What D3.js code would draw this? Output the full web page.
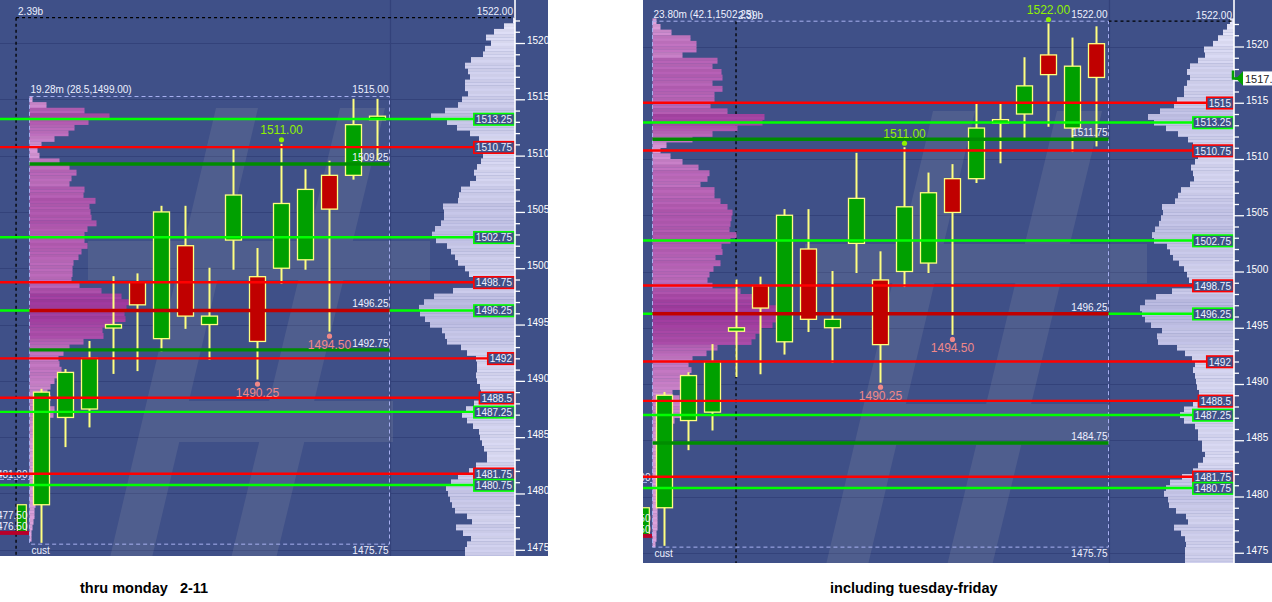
<!DOCTYPE html>
<html><head><meta charset="utf-8">
<script src="https://cdn.jsdelivr.net/npm/d3@7"></script>
<style>
html,body{margin:0;padding:0;background:#fff;}
svg{display:block;font-family:"Liberation Sans",Arial,sans-serif;}
</style></head>
<body><svg id="chart" width="1272" height="602"></svg>
<script>
// ---------------- DATA ----------------
// 30-minute bars of the session (left panel shows the first 15, right panel all 19)
const opens  = [1479, 1486.75, 1487.5, 1494.75, 1498.75, 1493.75, 1502, 1495, 1502.5, 1499.25, 1500, 1500.75, 1508.25, 1508.25, 1513.25, 1514, 1519.25, 1512.75, 1520.25];
const highs  = [1489.25, 1491, 1493.5, 1499.25, 1499.5, 1505.5, 1505.5, 1500, 1510.5, 1501.75, 1511, 1508.75, 1509.5, 1515, 1515, 1519, 1522, 1520.75, 1521.75];
const lows   = [1475.75, 1484.25, 1486, 1490.75, 1491, 1492.75, 1494.75, 1492, 1500, 1490.25, 1498.75, 1500, 1494.5, 1508, 1509.75, 1512, 1513, 1510.75, 1511.25];
const closes = [1489, 1490.75, 1492, 1495, 1496.75, 1505, 1495.75, 1495.75, 1506.5, 1493.5, 1505.75, 1507, 1505.25, 1512.75, 1513.5, 1516.5, 1517.5, 1518.25, 1517.25];
const barsShown = [15, 19];

// horizontal reference levels with axis label boxes
const levelPricesL = [1513.25, 1510.75, 1502.75, 1498.75, 1496.25, 1492, 1488.5, 1487.25, 1481.75, 1480.75];
const levelKindsL  = ["g", "r", "g", "r", "g", "r", "r", "g", "r", "g"];
const levelTextL   = ["1513.25", "1510.75", "1502.75", "1498.75", "1496.25", "1492", "1488.5", "1487.25", "1481.75", "1480.75"];
const levelPricesR = [1515, 1513.25, 1510.75, 1502.75, 1498.75, 1496.25, 1492, 1488.5, 1487.25, 1481.75, 1480.75];
const levelKindsR  = ["r", "g", "r", "g", "r", "g", "r", "r", "g", "r", "g"];
const levelTextR   = ["1515", "1513.25", "1510.75", "1502.75", "1498.75", "1496.25", "1492", "1488.5", "1487.25", "1481.75", "1480.75"];

// lines limited to the session profile box
const boxLinePricesL = [1509.25, 1496.25, 1492.75];
const boxLineKindsL  = ["dg", "poc", "dg"];
const boxLinePricesR = [1511.75, 1496.25, 1484.75];
const boxLineKindsR  = ["dg", "poc", "dg"];

// session extremes
const extremeIdxL   = [10, 12, 9];
const extremeKindL  = ["hi", "lo", "lo"];
const extremeIdxR   = [16, 10, 12, 9];
const extremeKindR  = ["hi", "hi", "lo", "lo"];

// session (pink) profile, 0.5-pt rows from top price downward
const pinkTopL = 1515;
const pinkProfileL = [3,17,55,80,59,45,39,25,12,8, 10,30,40,47,42,40,55,54,66,60, 61,62,67,58,55,55,58,52,49,44,
  43,43,42,50,72,92,101,97,95,96, 85,73,74,54,40,34,29,30,32,30, 25,21,18,21,20,25,24,18,15,16, 10,7,6,6,7,6,6,7,6,6, 7,6,6,5,5,4,3,2,2];
const pinkTopR = 1522.25;
const pinkProfileR = [4,8,19,38,44,44,30,65,60,69, 70,60,70,62,62,58,75,112,110,85, 60,40,14,8,18,30,46,57,55,48,
  62,62,68,75,80,79,78,77,84,78, 69,70,63,68,61,57,55,60,88,102, 115,126,130,126,120,108,103,99,65,54,
  40,36,39,36,32,28,20,27,28,29, 28,22,19,14,9,8,8,9,8,7, 8,9,8,7,7,6,6,5,5,5, 5,4,4,3];

// composite (lavender) profile at the price axis, 0.5-pt rows
const axisTopL = 1522;
const axisProfileL = [2,11,21,29,24,30,32,44,50,47, 45,50,50,47,53,57,70,84,68,58, 45,36,28,27,32,34,38,41,39,45,
  54,56,57,72,71,71,74,80,83,79, 68,64,60,57,50,46,40,42,62,81, 91,96,95,90,85,73,70,68,54,48,
  39,38,38,39,38,35,34,35,41,49, 53,48,42,36,35,33,31,28,28,39, 46,57,64,69,67,65,63,60,48,43, 59,52,44,48,50,50,50];
const axisTopR = 1522.25;
const axisProfileR = [4,7,11,16,21,30,29,36,44,47, 44,47,50,50,57,60,74,86,80,68, 56,46,41,35,36,39,43,41,40,44,
  53,56,59,72,71,73,75,79,82,80, 67,64,61,55,50,47,45,42,62,78, 89,94,92,89,83,72,77,76,57,49,
  42,39,41,39,38,37,35,36,41,50, 54,50,39,36,36,32,32,29,31,36, 41,52,64,68,70,66,65,58,48,46, 60,53,49,48,49,49,49];

// prior session remnants at the left edge
const priorBar = {o: 1476.5, c: 1479, h: 1479.25, l: 1476.25};
const priorLabelPrices = [1481.25, 1477.5, 1476.5];
const priorLabelText = ["1481.00", "1477.50", "1476.50"];
const priorPocPrice = 1476.5;

const majorTicks = [1475, 1480, 1485, 1490, 1495, 1500, 1505, 1510, 1515, 1520];
const minorTicks = d3.range(1474, 1523).filter(v => v % 5 !== 0);
const compositeHigh = 1522.25;
const lastPriceText = "1517.25";

const infoTopL = ["19.28m (28.5,1499.00)", "1515.00"];
const infoTopR = ["23.80m (42.1,1502.25)", "1522.00"];
const sessionRangeL = [1515, 1475.75];
const sessionRangeR = [1522, 1475.75];
const captions = ["thru monday\u00a0\u00a0\u00a02-11", "including tuesday-friday"];

// ---------------- DRAWING ----------------
const BG = "#3f5088", GRID = "#33427a", TXT = "#eef0ff", YEL = "#ffff80";
const LIME = "#90f000", SALMON = "#f08888";
const svg = d3.select("#chart");
const defs = svg.append("defs");
const fmt2 = d3.format(".2f");

function drawPanel(P) {
  const n = P.n;
  const y = d3.scaleLinear().domain([1475, 1520]).range(P.yRange);
  const x = d3.scaleLinear().domain([0, 1]).range([P.xFirst, P.xFirst + P.step]);
  const wS = d3.scaleLinear().domain([0, 100]).range([0, 100]);
  defs.append("clipPath").attr("id", "clip-" + P.id).append("rect")
    .attr("x", P.left).attr("y", 0).attr("width", P.right - P.left).attr("height", P.bottom);
  const g = svg.append("g").attr("clip-path", `url(#clip-${P.id})`);
  g.append("rect").attr("x", P.left).attr("y", 0).attr("width", P.right - P.left).attr("height", P.bottom).attr("fill", BG);

  const boxLeft = x(-0.5), boxRight = x(n - 1 + 0.5);
  const boxTop = y(P.range[0] + 0.25), boxBot = y(P.range[1] - 0.25);

  // gridlines
  g.append("g").selectAll("line").data(majorTicks).join("line")
    .attr("x1", P.left).attr("x2", P.axisX)
    .attr("y1", d => Math.round(y(d)) + 0.5).attr("y2", d => Math.round(y(d)) + 0.5)
    .attr("stroke", GRID).attr("stroke-width", 1.2);
  g.append("line").attr("x1", Math.round(boxRight) + 0.5).attr("x2", Math.round(boxRight) + 0.5)
    .attr("y1", 0).attr("y2", P.bottom).attr("stroke", GRID).attr("stroke-width", 1.2);

  // watermark logo
  const wm = g.append("g").attr("transform", `translate(${P.wmDx},${P.wmDy})`).attr("opacity", 0.14).attr("fill", "#b4b4b4");
  wm.append("path").attr("d", "M216,108 L258,108 L142,600 L100,600 Z");
  wm.append("path").attr("d", "M340,108 L385,108 L266,600 L221,600 Z");
  wm.append("rect").attr("x", 88).attr("y", 241).attr("width", 342).attr("height", 39);
  wm.append("rect").attr("x", 150).attr("y", 401).attr("width", 243).attr("height", 41);

  // composite profile at axis
  const aRows = [];
  P.axisProfile.forEach((w, i) => { const p = P.axisTop - 0.5 * i; aRows.push({p, w, s: 0}, {p, w, s: 1}); });
  const aMax = d3.max(P.axisProfile);
  const aCol = d3.interpolateRgb("#e2e2f4", "#b6b6dc");
  g.append("g").selectAll("rect").data(aRows).join("rect")
    .attr("x", d => P.axisX - wS(d.w)).attr("width", d => wS(d.w))
    .attr("y", d => y(d.p + 0.25 - 0.25 * d.s))
    .attr("height", d => y(d.p - 0.25 * d.s) - y(d.p + 0.25 - 0.25 * d.s) + 0.3)
    .attr("fill", d => d3.color(aCol(d.w / aMax)).brighter(d.s ? 0.08 : 0));

  // black dashed composite markers
  const cx = x(P.compStart), cy = y(compositeHigh);
  g.append("line").attr("x1", cx).attr("x2", cx).attr("y1", cy).attr("y2", P.bottom)
    .attr("stroke", "#000").attr("stroke-width", 1.3).attr("stroke-dasharray", "3,3");
  g.append("line").attr("x1", P.dashFromBox ? boxRight : cx).attr("x2", P.axisX).attr("y1", cy).attr("y2", cy)
    .attr("stroke", "#000").attr("stroke-width", 1.3).attr("stroke-dasharray", "3,3");

  // prior session remnants
  const pb = g.append("g");
  const pbx = x(-0.82);
  pb.append("rect").attr("x", pbx - 4.5).attr("width", 9).attr("y", y(priorBar.c)).attr("height", y(priorBar.o) - y(priorBar.c))
    .attr("fill", "#00a000").attr("stroke", YEL).attr("stroke-width", 1.2);
  pb.append("line").attr("x1", P.left).attr("x2", boxLeft).attr("y1", y(priorPocPrice)).attr("y2", y(priorPocPrice))
    .attr("stroke", "#b8002a").attr("stroke-width", 4);
  pb.append("line").attr("x1", P.left).attr("x2", boxLeft).attr("y1", y(priorLabelPrices[0])).attr("y2", y(priorLabelPrices[0]))
    .attr("stroke", "#a8b0f0").attr("stroke-dasharray", "4,3");
  pb.selectAll("text").data(priorLabelPrices).join("text")
    .attr("x", boxLeft - 2).attr("y", (d, i) => y(d) - (i === 0 ? 1 : 2.5)).attr("text-anchor", "end")
    .attr("font-size", 10).attr("fill", TXT).text((d, i) => priorLabelText[i]);

  // session pink profile
  const pRows = [];
  P.pinkProfile.forEach((w, i) => { const p = P.pinkTop - 0.5 * i; pRows.push({p, w, s: 0}, {p, w, s: 1}); });
  const pMax = d3.max(P.pinkProfile);
  const pCol = d3.interpolateRgb("#dcaadc", "#9a3898");
  g.append("g").selectAll("rect").data(pRows).join("rect")
    .attr("x", boxLeft).attr("width", d => wS(d.w))
    .attr("y", d => y(d.p + 0.25 - 0.25 * d.s))
    .attr("height", d => y(d.p - 0.25 * d.s) - y(d.p + 0.25 - 0.25 * d.s) + 0.3)
    .attr("fill", d => d3.color(pCol(Math.pow(d.w / pMax, 0.6))).brighter(d.s ? 0.12 : 0));

  // profile box (dashed)
  const dash = g.append("g").attr("stroke", "#a8b0f0").attr("stroke-width", 1).attr("stroke-dasharray", "4,3").attr("fill", "none");
  dash.append("path").attr("d", `M${boxLeft},${boxTop} H${boxRight} V${boxBot} H${boxLeft} Z`);

  // candles
  const idx = d3.range(n);
  const cg = g.append("g");
  cg.selectAll("line").data(idx).join("line")
    .attr("x1", i => x(i)).attr("x2", i => x(i))
    .attr("y1", i => y(highs[i]) - 0.5).attr("y2", i => y(lows[i]) + 1.5)
    .attr("stroke", YEL).attr("stroke-width", 2);
  cg.selectAll("rect").data(idx).join("rect")
    .attr("x", i => x(i) - 8).attr("width", 16)
    .attr("y", i => y(Math.max(opens[i], closes[i])))
    .attr("height", i => Math.max(3.5, Math.abs(y(opens[i]) - y(closes[i]))))
    .attr("fill", i => closes[i] >= opens[i] ? "#00a000" : "#c00000")
    .attr("stroke", YEL).attr("stroke-width", 1.3);

  // levels with label boxes
  const lv = P.levelPrices.map((p, i) => ({p, k: P.levelKinds[i], t: P.levelText[i]}));
  const lg = g.append("g");
  lv.forEach(d => {
    const col = d.k === "g" ? "#00ff00" : "#ff0000";
    const t = lg.append("text").attr("font-size", 10).attr("fill", TXT).text(d.t);
    const tw = t.node().getComputedTextLength();
    const bx = P.axisX - tw - 5.5;
    const yy = y(d.p);
    lg.insert("line", "text").attr("x1", P.left).attr("x2", bx).attr("y1", yy).attr("y2", yy)
      .attr("stroke", col).attr("stroke-width", 2.4);
    d.bx = bx; d.tw = tw; d.col = col; d.tnode = t; d.yy = yy;
  });
  lv.forEach(d => {
    lg.append("rect").attr("x", d.bx + 0.5).attr("y", d.yy - 5.5).attr("width", d.tw + 4.5).attr("height", 11.5)
      .attr("fill", BG).attr("stroke", d.col).attr("stroke-width", 1.6);
    d.tnode.raise().attr("x", d.bx + 2.5).attr("y", d.yy + 4);
  });

  // session-bounded lines
  const bl = g.append("g");
  P.boxLinePrices.forEach((p, i) => {
    const k = P.boxLineKinds[i];
    bl.append("line").attr("x1", boxLeft).attr("x2", boxRight).attr("y1", y(p)).attr("y2", y(p))
      .attr("stroke", k === "poc" ? "#c00000" : "#008c00").attr("stroke-width", 3.4);
    bl.append("text").attr("x", boxRight - 1).attr("y", y(p) - 3).attr("text-anchor", "end")
      .attr("font-size", 10).attr("fill", TXT).text(fmt2(p));
  });

  // extremes
  const ex = g.append("g");
  P.extremeIdx.forEach((i, j) => {
    const hi = P.extremeKind[j] === "hi";
    const p = hi ? highs[i] : lows[i];
    const col = hi ? LIME : SALMON;
    ex.append("circle").attr("cx", x(i)).attr("cy", hi ? y(p) - 4.5 : y(p) + 6).attr("r", 2.6).attr("fill", col);
    ex.append("text").attr("x", x(i)).attr("y", hi ? y(p) - 10 : y(p) + 19).attr("text-anchor", "middle")
      .attr("font-size", 12).attr("fill", col).text(fmt2(p));
  });

  // info labels
  const info = g.append("g").attr("font-size", 10).attr("fill", TXT);
  info.append("text").attr("x", boxLeft + 1).attr("y", boxTop - 3).text(P.infoTop[0]);
  info.append("text").attr("x", boxRight - 1).attr("y", boxTop - 3).attr("text-anchor", "end").text(P.infoTop[1]);
  info.append("text").attr("x", boxRight - 1).attr("y", boxBot + 9.5).attr("text-anchor", "end").text(fmt2(P.range[1]));
  info.append("text").attr("x", boxLeft + 2).attr("y", boxBot + 9.5).text("cust");
  info.append("text").attr("x", cx + 2).attr("y", cy - 2.5).text("2.39b");
  info.append("text").attr("x", P.axisX - 2).attr("y", cy - 2.5).attr("text-anchor", "end").text(fmt2(compositeHigh - 0.25));

  // price axis
  g.append("line").attr("x1", P.axisX).attr("x2", P.axisX).attr("y1", 0).attr("y2", P.bottom)
    .attr("stroke", "#fff").attr("stroke-width", 1.6);
  const ax = g.append("g").attr("transform", `translate(${P.axisX},0)`);
  ax.call(d3.axisRight(y).tickValues(majorTicks).tickSize(10).tickPadding(2).tickFormat(d3.format("d")));
  ax.append("g").call(d3.axisRight(y).tickValues(minorTicks).tickSize(5).tickFormat(""));
  ax.selectAll(".domain").remove();
  ax.selectAll("line").attr("stroke", "#fff").attr("stroke-width", 1.3);
  ax.selectAll("text").attr("fill", "#fff").attr("font-size", 10).attr("font-family", "Liberation Sans, Arial, sans-serif").attr("dy", "0.05em");

  // current price marker
  if (P.showLast) {
    const lp = closes[n - 1];
    const ly = y(lp) + 1;
    g.append("path").attr("d", `M${P.axisX - 1},${ly - 8} V${ly} H${P.axisX + 8}`).attr("stroke", "#00a000").attr("stroke-width", 2.5).attr("fill", "none");
    g.append("path").attr("d", `M${P.axisX + 2},${ly} L${P.axisX + 9},${ly - 7} L${P.axisX + 9},${ly + 7} Z`).attr("fill", "#00a000");
    g.append("rect").attr("x", P.axisX + 9).attr("y", ly - 7).attr("width", 60).attr("height", 14).attr("fill", "#fff");
    g.append("text").attr("x", P.axisX + 11).attr("y", ly + 4.5).attr("font-size", 11).attr("fill", "#222").text(lastPriceText);
  }
}

drawPanel({id: "L", n: barsShown[0], left: 0, right: 548, bottom: 556, axisX: 515,
  yRange: [43 + 45 * 11.262, 43], xFirst: 41.5, step: 24, compStart: -1.06, dashFromBox: false,
  wmDx: 0, wmDy: 0, range: sessionRangeL, infoTop: infoTopL,
  pinkTop: pinkTopL, pinkProfile: pinkProfileL, axisTop: axisTopL, axisProfile: axisProfileL,
  levelPrices: levelPricesL, levelKinds: levelKindsL, levelText: levelTextL,
  boxLinePrices: boxLinePricesL, boxLineKinds: boxLineKindsL,
  extremeIdx: extremeIdxL, extremeKind: extremeKindL, showLast: false});

drawPanel({id: "R", n: barsShown[1], left: 643, right: 1272, bottom: 563, axisX: 1234,
  yRange: [46.5 + 45 * 11.25, 46.5], xFirst: 664.5, step: 24, compStart: 2.98, dashFromBox: true,
  wmDx: 717, wmDy: 3, range: sessionRangeR, infoTop: infoTopR,
  pinkTop: pinkTopR, pinkProfile: pinkProfileR, axisTop: axisTopR, axisProfile: axisProfileR,
  levelPrices: levelPricesR, levelKinds: levelKindsR, levelText: levelTextR,
  boxLinePrices: boxLinePricesR, boxLineKinds: boxLineKindsR,
  extremeIdx: extremeIdxR, extremeKind: extremeKindR, showLast: true});

// captions
svg.selectAll("text.cap").data(captions).join("text").attr("class", "cap")
  .attr("x", (d, i) => i === 0 ? 80 : 830).attr("y", 593)
  .attr("font-size", 14.5).attr("font-weight", "bold").attr("fill", "#000")
  .text(d => d);
</script>
</body></html>
